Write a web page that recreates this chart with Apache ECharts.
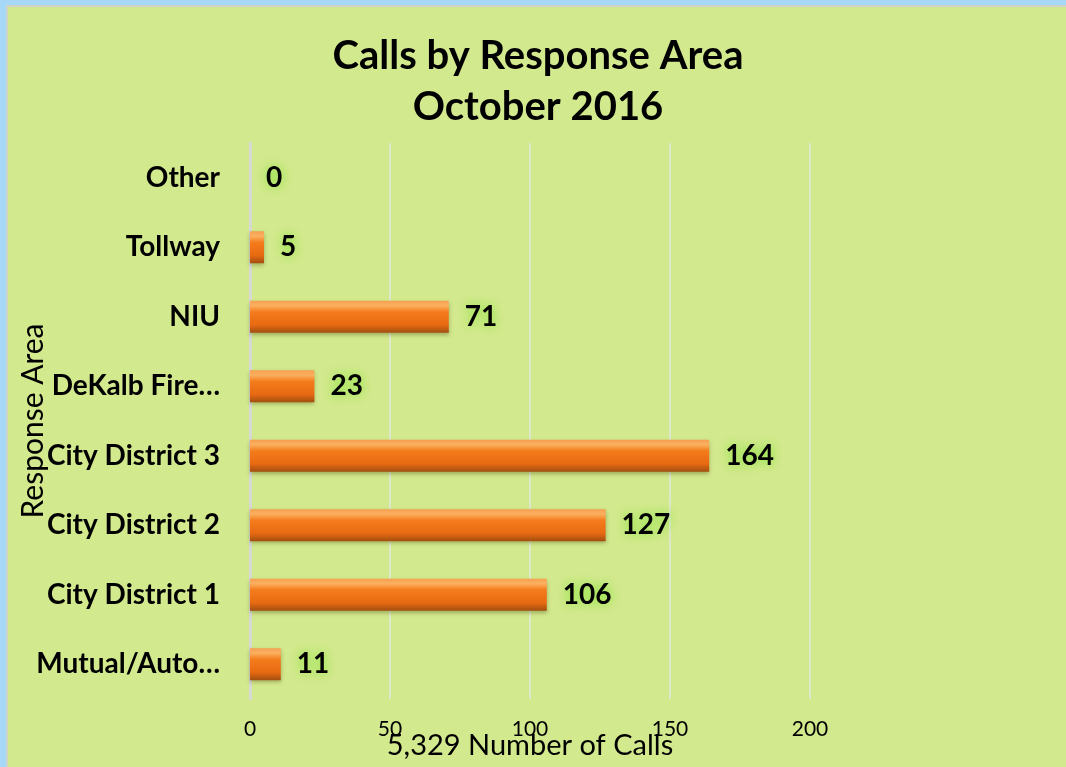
<!DOCTYPE html>
<html>
<head>
<meta charset="utf-8">
<script src="https://cdn.jsdelivr.net/npm/echarts@6/dist/echarts.min.js"></script>
<style>
  html, body { margin: 0; padding: 0; background: #a8d8f8; overflow: hidden; }
  #main {
    position: absolute; left: 6px; top: 5px;
    width: 1060px; height: 762px;
    border-left: 2px solid #cfd3c8; border-top: 2px solid #cfd3c8;
    background: #d3e98e;
  }
</style>
</head>
<body>
<div id="main"></div>
<script>
const categories = ['Mutual/Auto…', 'City District 1', 'City District 2', 'City District 3', 'DeKalb Fire…', 'NIU', 'Tollway', 'Other'];
const calls = [11, 106, 127, 164, 23, 71, 5, 0];
const xTicks = { min: 0, max: 200, interval: 50 };

const font = 'Lato, "Open Sans", sans-serif';
const chart = echarts.init(document.getElementById('main'));

chart.setOption({
  animation: false,
  textStyle: { fontFamily: font },
  title: {
    text: 'Calls by Response Area\nOctober 2016',
    left: 'center',
    top: 19,
    textStyle: { fontSize: 40, fontWeight: 'bold', color: '#000', lineHeight: 51, fontFamily: font },
  },
  grid: { left: 242, right: 258, top: 136, bottom: 70, outerBoundsMode: 'none' },
  xAxis: {
    type: 'value',
    min: xTicks.min,
    max: xTicks.max,
    interval: xTicks.interval,
    name: '5,329 Number of Calls',
    nameLocation: 'middle',
    nameGap: 32,
    nameMoveOverlap: false,
    nameTextStyle: { fontSize: 29, color: '#000', fontFamily: font },
    axisLine: { show: false },
    axisTick: { show: false },
    axisLabel: { fontSize: 21, color: '#000', margin: 20, fontFamily: font },
    splitLine: { lineStyle: { color: '#e2e6dc', width: 1.5 } },
  },
  yAxis: {
    type: 'category',
    data: categories,
    name: 'Response Area',
    nameLocation: 'middle',
    nameRotate: 90,
    nameGap: 202,
    nameMoveOverlap: false,
    nameTextStyle: { fontSize: 30, color: '#000', fontFamily: font },
    axisLine: { lineStyle: { color: '#d6d9d2', width: 3 } },
    axisTick: { show: false },
    axisLabel: { fontSize: 28, fontWeight: 'bold', color: '#000', margin: 30, fontFamily: font },
  },
  series: [{
    type: 'bar',
    data: calls,
    barWidth: 32,
    itemStyle: {
      color: new echarts.graphic.LinearGradient(0, 0, 0, 1, [
        { offset: 0, color: '#f5a050' },
        { offset: 0.15, color: '#fbb060' },
        { offset: 0.35, color: '#f47c1c' },
        { offset: 0.75, color: '#e86a12' },
        { offset: 1, color: '#a24e10' },
      ]),
      shadowColor: 'rgba(60,60,0,0.35)',
      shadowBlur: 4,
      shadowOffsetY: 2,
    },
    label: {
      show: true,
      position: 'right',
      distance: 16,
      fontSize: 28,
      fontWeight: 'bold',
      color: '#000',
      fontFamily: font,
      textShadowColor: '#6fe020',
      textShadowBlur: 12,
    },
  }],
});
</script>
</body>
</html>
